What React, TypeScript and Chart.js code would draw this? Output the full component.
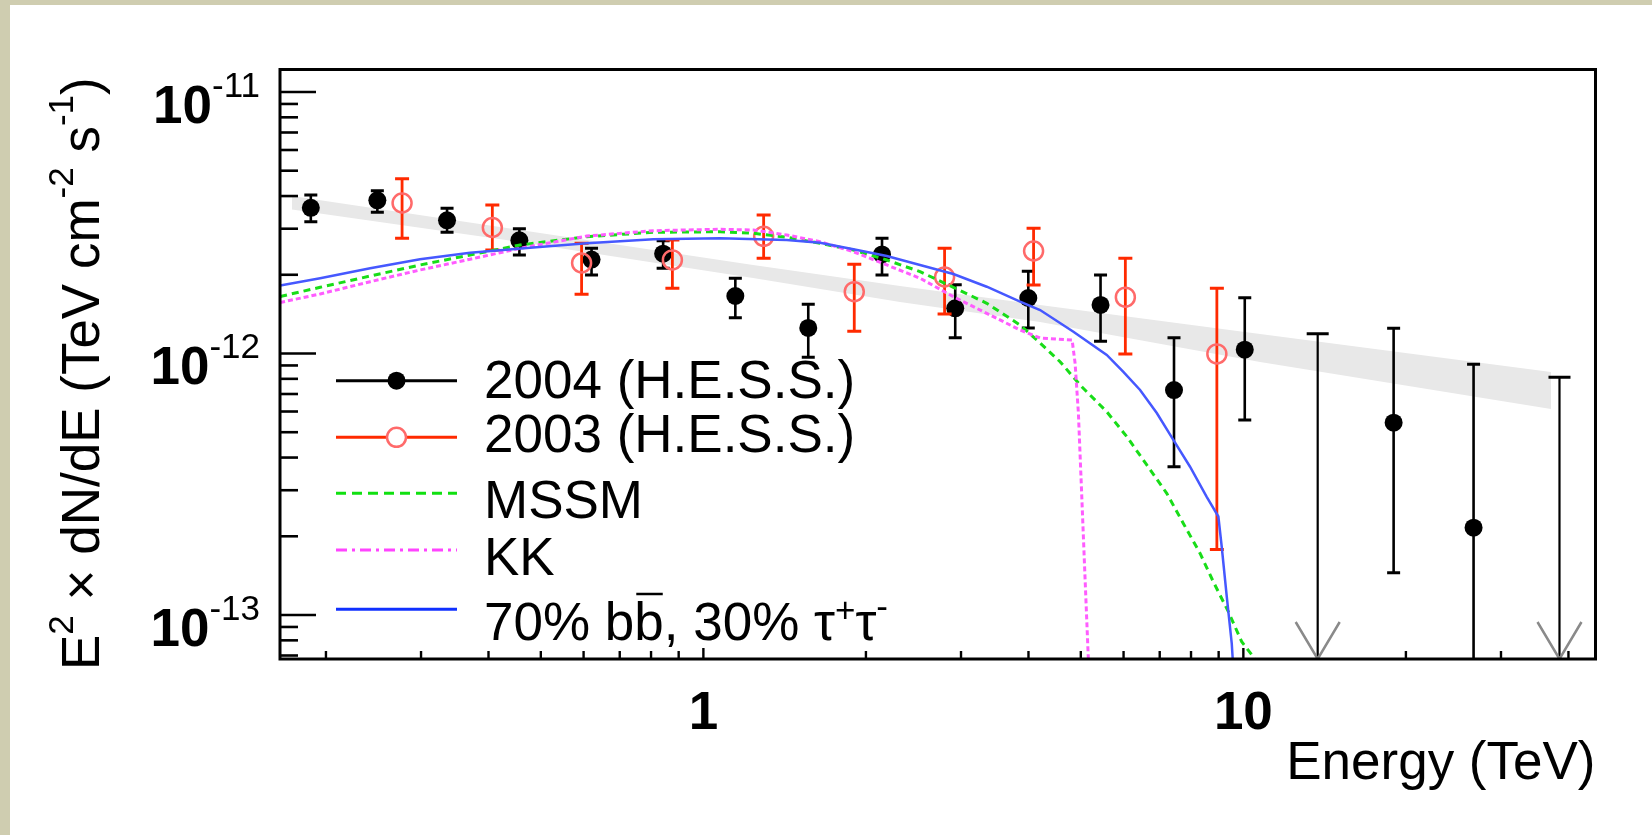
import React, { useEffect, useRef } from 'react';
import { Chart, registerables } from 'chart.js';

Chart.register(...registerables);

const FONT = '"Liberation Sans", Arial, Helvetica, sans-serif';

// ---------------- data ----------------
// H.E.S.S. 2004 (filled black points), E [TeV], E^2 dN/dE [TeV cm^-2 s^-1]
const energy2004 = [0.1875, 0.249, 0.3352, 0.4563, 0.6207, 0.8423, 1.146, 1.564, 2.142, 2.927, 3.997, 5.439, 7.44, 10.06, 18.98, 26.69];
const flux2004 = [3.607e-12, 3.853e-12, 3.231e-12, 2.71e-12, 2.286e-12, 2.407e-12, 1.659e-12, 1.252e-12, 2.391e-12, 1.489e-12, 1.63e-12, 1.533e-12, 7.25e-13, 1.034e-12, 5.44e-13, 2.157e-13];
const flux2004Hi = [4.037e-12, 4.193e-12, 3.591e-12, 3.0e-12, 2.525e-12, 2.698e-12, 1.939e-12, 1.542e-12, 2.757e-12, 1.833e-12, 2.062e-12, 1.996e-12, 1.149e-12, 1.635e-12, 1.248e-12, 9.09e-13];
const flux2004Lo = [3.192e-12, 3.467e-12, 2.906e-12, 2.38e-12, 1.996e-12, 2.117e-12, 1.371e-12, 9.68e-13, 1.996e-12, 1.148e-12, 1.252e-12, 1.114e-12, 3.69e-13, 5.57e-13, 1.452e-13, 4.0e-14];
// H.E.S.S. 2004 upper limits
const energy2004UL = [13.73, 38.5];
const flux2004UL = [1.19e-12, 8.11e-13];

// H.E.S.S. 2003 (open red circles)
const energy2003 = [0.2767, 0.4066, 0.5949, 0.8762, 1.293, 1.903, 2.797, 4.088, 6.046, 8.932];
const flux2003 = [3.762e-12, 3.032e-12, 2.219e-12, 2.279e-12, 2.806e-12, 1.723e-12, 1.961e-12, 2.466e-12, 1.642e-12, 9.96e-13];
const flux2003Hi = [4.661e-12, 3.697e-12, 2.638e-12, 2.716e-12, 3.385e-12, 2.194e-12, 2.525e-12, 3.01e-12, 2.312e-12, 1.775e-12];
const flux2003Lo = [2.757e-12, 2.487e-12, 1.684e-12, 1.775e-12, 2.312e-12, 1.216e-12, 1.416e-12, 1.828e-12, 9.96e-13, 1.781e-13];

// power-law fit band (grey)
const bandEnergy = [0.173, 0.4576, 1.236, 2.313, 4.203, 10.74, 37.13];
const bandUpper = [4.002e-12, 2.967e-12, 2.18e-12, 1.812e-12, 1.532e-12, 1.188e-12, 8.5e-13];
const bandLower = [3.553e-12, 2.669e-12, 1.944e-12, 1.573e-12, 1.32e-12, 9.28e-13, 6.135e-13];

// model curves
const mssmEnergy = [0.1645, 0.1951, 0.2415, 0.2987, 0.3698, 0.4576, 0.6083, 0.808, 1.074, 1.238, 1.427, 1.645, 1.896, 2.186, 2.519, 2.904, 3.348, 3.859, 4.203, 4.577, 5.021, 5.585, 6.083, 6.624, 7.213, 7.742, 8.316, 8.798, 9.38, 9.93, 10.43, 10.97];
const mssmFlux = [1.652e-12, 1.791e-12, 1.978e-12, 2.18e-12, 2.38e-12, 2.599e-12, 2.797e-12, 2.907e-12, 2.922e-12, 2.882e-12, 2.782e-12, 2.638e-12, 2.487e-12, 2.278e-12, 2.055e-12, 1.791e-12, 1.556e-12, 1.285e-12, 1.097e-12, 9.3e-13, 7.46e-13, 5.99e-13, 4.81e-13, 3.75e-13, 2.92e-13, 2.24e-13, 1.72e-13, 1.34e-13, 1.03e-13, 7.9e-14, 6.93e-14, 5.64e-14];

const kkEnergy = [0.1645, 0.1951, 0.2415, 0.2987, 0.3698, 0.4576, 0.6083, 0.808, 1.074, 1.238, 1.427, 1.645, 1.896, 2.186, 2.519, 2.904, 3.348, 3.859, 4.203, 4.818, 4.88, 4.949, 5.021, 5.093, 5.164, 5.18];
const kkFlux = [1.567e-12, 1.689e-12, 1.882e-12, 2.086e-12, 2.293e-12, 2.525e-12, 2.813e-12, 2.948e-12, 2.985e-12, 2.967e-12, 2.839e-12, 2.676e-12, 2.45e-12, 2.18e-12, 1.94e-12, 1.649e-12, 1.424e-12, 1.23e-12, 1.146e-12, 1.126e-12, 9.17e-13, 5.91e-13, 2.83e-13, 1.36e-13, 6.73e-14, 5.16e-14];

const bbEnergy = [0.1645, 0.1951, 0.2415, 0.2987, 0.3698, 0.4776, 0.6083, 0.808, 1.074, 1.427, 1.645, 1.896, 2.186, 2.519, 2.904, 3.348, 3.859, 4.203, 4.845, 5.585, 5.995, 6.438, 6.913, 7.419, 7.966, 8.553, 8.989, 9.12, 9.317, 9.517, 9.61];
const bbFlux = [1.82e-12, 1.94e-12, 2.117e-12, 2.293e-12, 2.429e-12, 2.538e-12, 2.638e-12, 2.733e-12, 2.757e-12, 2.716e-12, 2.652e-12, 2.503e-12, 2.36e-12, 2.18e-12, 2.014e-12, 1.8e-12, 1.578e-12, 1.466e-12, 1.211e-12, 9.87e-13, 8.5e-13, 7.25e-13, 5.92e-13, 4.67e-13, 3.69e-13, 2.83e-13, 2.38e-13, 1.82e-13, 1.175e-13, 7.79e-14, 5.64e-14];

// axes
const X_MIN = 0.16441;
const X_MAX = 44.89;
const Y_MIN = 6.788e-14;
const Y_MAX = 1.2189e-11;
const xTickValues = [1, 10];
const xTickLabels = ['1', '10'];
const yTickValues = [1e-11, 1e-12, 1e-13];
const yTickMantissa = '10';
const yTickExponents = ['-11', '-12', '-13'];
const xAxisTitle = 'Energy (TeV)';
const yAxisTitle = [
  { t: 'E' }, { t: '2', sup: true }, { t: ' \u00d7 dN/dE (TeV cm' }, { t: '-2', sup: true },
  { t: ' s' }, { t: '-1', sup: true }, { t: ')' },
];
const legendLabels = ['2004 (H.E.S.S.)', '2003 (H.E.S.S.)', 'MSSM', 'KK'];
const legendLastLabel = [
  { t: '70% b' }, { t: 'b', over: true }, { t: ', 30% \u03c4' }, { t: '+', sup: true, rise: 18 },
  { t: '\u03c4' }, { t: '-', sup: true, rise: 22 },
];

// ---------------- helpers ----------------
const pts = (xs: number[], ys: number[]) => xs.map((x, i) => ({ x, y: ys[i] }));

function drawRich(ctx: any, segs: any[], x: number, y: number, align: string, base = 53) {
  const fontOf = (s: any) => `${s.weight || 'normal'} ${s.sup ? 35 : base}px ${FONT}`;
  const widths = segs.map((s) => { ctx.font = fontOf(s); return ctx.measureText(s.t).width; });
  const total = widths.reduce((a, b) => a + b, 0);
  let cx = align === 'right' ? x - total : x;
  ctx.textAlign = 'left';
  ctx.textBaseline = 'alphabetic';
  segs.forEach((s, i) => {
    ctx.font = fontOf(s);
    const rise = s.sup ? (s.rise !== undefined ? s.rise : 26) : 0;
    ctx.fillText(s.t, cx, y - rise);
    if (s.over) {
      ctx.save();
      ctx.lineWidth = 2.5;
      ctx.strokeStyle = ctx.fillStyle;
      ctx.beginPath();
      ctx.moveTo(cx + 2, y - 46);
      ctx.lineTo(cx + widths[i] - 1, y - 46);
      ctx.stroke();
      ctx.restore();
    }
    cx += widths[i];
  });
}

function seg(ctx: any, x0: number, y0: number, x1: number, y1: number) {
  ctx.beginPath();
  ctx.moveTo(x0, y0);
  ctx.lineTo(x1, y1);
  ctx.stroke();
}

const errorBarPlugin = {
  id: 'errorBars',
  beforeDatasetDraw(chart: any, args: any) {
    const ds: any = chart.data.datasets[args.index];
    if (!ds.errHigh && !ds.upperLimit) return;
    const { ctx, chartArea: a, scales } = chart;
    const xs = scales.x;
    const ys = scales.y;
    ctx.save();
    ctx.beginPath();
    ctx.rect(a.left, a.top, a.right - a.left, a.bottom - a.top);
    ctx.clip();
    ctx.lineCap = 'butt';
    ds.data.forEach((p: any, i: number) => {
      const px = xs.getPixelForValue(p.x);
      ctx.strokeStyle = ds.errColor;
      if (ds.upperLimit) {
        const yTop = ys.getPixelForValue(p.y);
        ctx.lineWidth = 2.2;
        seg(ctx, px, yTop, px, a.bottom);
        ctx.lineWidth = 3;
        seg(ctx, px - 11, yTop, px + 11, yTop);
        ctx.strokeStyle = '#8a8a8a';
        ctx.lineWidth = 2.5;
        ctx.beginPath();
        ctx.moveTo(px - 22, a.bottom - 37);
        ctx.lineTo(px, a.bottom);
        ctx.lineTo(px + 22, a.bottom - 37);
        ctx.stroke();
      } else {
        const yHi = ys.getPixelForValue(ds.errHigh[i]);
        const yLo = ys.getPixelForValue(ds.errLow[i]);
        const cap = ds.capHalf;
        ctx.lineWidth = ds.errWidth;
        seg(ctx, px, yHi, px, yLo);
        ctx.lineWidth = 3;
        seg(ctx, px - cap, yHi, px + cap, yHi);
        seg(ctx, px - cap, yLo, px + cap, yLo);
      }
    });
    ctx.restore();
  },
};

const framePlugin = {
  id: 'rootFrame',
  afterDatasetsDraw(chart: any) {
    const { ctx, chartArea: a, scales } = chart;
    const xs = scales.x;
    const ys = scales.y;
    ctx.save();
    ctx.strokeStyle = '#000';
    ctx.fillStyle = '#000';
    ctx.lineCap = 'butt';
    // y ticks (inward)
    ctx.lineWidth = 2.6;
    for (let d = -14; d <= -10; d++) {
      for (let m = 1; m <= 9; m++) {
        const v = m * Math.pow(10, d);
        if (v < Y_MIN || v > Y_MAX) continue;
        const py = ys.getPixelForValue(v);
        seg(ctx, a.left, py, a.left + (m === 1 ? 36 : 18), py);
      }
    }
    // x ticks (inward)
    ctx.lineWidth = 2.4;
    for (let d = -1; d <= 1; d++) {
      for (let m = 1; m <= 9; m++) {
        const v = m * Math.pow(10, d);
        if (v < X_MIN || v > X_MAX) continue;
        const px = xs.getPixelForValue(v);
        seg(ctx, px, a.bottom, px, a.bottom - (m === 1 ? 11 : 8));
      }
    }
    // frame
    ctx.lineWidth = 3;
    ctx.strokeRect(a.left, a.top, a.right - a.left, a.bottom - a.top);

    // y tick labels 10^-n
    yTickValues.forEach((v, i) => {
      const py = ys.getPixelForValue(v);
      drawRich(ctx, [{ t: yTickMantissa, weight: 'bold' }, { t: yTickExponents[i], sup: true }], a.left - 20, py + 31, 'right');
    });

    // y axis title (rotated)
    ctx.save();
    ctx.translate(98.5, 670);
    ctx.rotate(-Math.PI / 2);
    drawRich(ctx, yAxisTitle, 0, 0, 'left');
    ctx.restore();

    // legend
    const lx0 = 336, lx1 = 457, lmx = 396.5, tx = 484;
    const rowLine = [380.7, 437.3, 493.3, 550, 609.3];
    const rowBase = [398.3, 451.7, 518.3, 575, 640];
    const styles = [
      { color: '#000', dash: [], w: 3 },
      { color: '#ff2a00', dash: [], w: 3 },
      { color: '#10e010', dash: [10, 6], w: 3 },
      { color: '#ff44ff', dash: [11, 5, 3, 5], w: 3 },
      { color: '#1030ff', dash: [], w: 3 },
    ];
    styles.forEach((s, i) => {
      ctx.save();
      ctx.strokeStyle = s.color;
      ctx.lineWidth = s.w;
      ctx.setLineDash(s.dash);
      seg(ctx, lx0, rowLine[i], lx1, rowLine[i]);
      ctx.restore();
    });
    // markers
    ctx.beginPath();
    ctx.arc(lmx, rowLine[0], 9, 0, Math.PI * 2);
    ctx.fillStyle = '#000';
    ctx.fill();
    ctx.beginPath();
    ctx.arc(lmx, rowLine[1], 9.5, 0, Math.PI * 2);
    ctx.fillStyle = '#fff';
    ctx.fill();
    ctx.lineWidth = 2.5;
    ctx.strokeStyle = '#ff6a6a';
    ctx.stroke();
    // texts
    ctx.fillStyle = '#000';
    ctx.font = `53px ${FONT}`;
    ctx.textAlign = 'left';
    ctx.textBaseline = 'alphabetic';
    legendLabels.forEach((t, i) => ctx.fillText(t, tx, rowBase[i]));
    drawRich(ctx, legendLastLabel, tx, rowBase[4], 'left');
    ctx.restore();
  },
};

export default function App() {
  const ref = useRef<HTMLCanvasElement>(null);
  useEffect(() => {
    const canvas = ref.current;
    if (!canvas) return;
    const config: any = {
      type: 'line',
      data: {
        datasets: [
          { label: 'band hi', data: pts(bandEnergy, bandUpper), fill: '+1', backgroundColor: '#e8e8e8', borderWidth: 0, pointRadius: 0, order: 10 },
          { label: 'band lo', data: pts(bandEnergy, bandLower), fill: false, borderWidth: 0, pointRadius: 0, order: 10 },
          {
            label: '2004 (H.E.S.S.)', data: pts(energy2004, flux2004), showLine: false, pointRadius: 9,
            pointBackgroundColor: '#000', pointBorderWidth: 0, order: 6,
            errHigh: flux2004Hi, errLow: flux2004Lo, errColor: '#000', errWidth: 2.6, capHalf: 6.5,
          },
          {
            label: '2004 UL', data: pts(energy2004UL, flux2004UL), showLine: false, pointRadius: 0, order: 6,
            upperLimit: true, errColor: '#000',
          },
          {
            label: '2003 (H.E.S.S.)', data: pts(energy2003, flux2003), showLine: false, pointRadius: 9.5,
            pointBackgroundColor: 'rgba(0,0,0,0)', pointBorderColor: '#ff6a6a', pointBorderWidth: 2.5, order: 5,
            errHigh: flux2003Hi, errLow: flux2003Lo, errColor: '#ff2a00', errWidth: 2.8, capHalf: 7,
          },
          { label: 'MSSM', data: pts(mssmEnergy, mssmFlux), borderColor: '#18dd18', borderWidth: 3, borderDash: [7, 5], pointRadius: 0, fill: false, tension: 0, order: 3 },
          { label: 'KK', data: pts(kkEnergy, kkFlux), borderColor: '#ff5cff', borderWidth: 3, borderDash: [5, 3], pointRadius: 0, fill: false, tension: 0, order: 2 },
          { label: '70% bb, 30% tautau', data: pts(bbEnergy, bbFlux), borderColor: '#4658ff', borderWidth: 2.5, pointRadius: 0, fill: false, tension: 0, order: 1 },
        ],
      },
      options: {
        responsive: false,
        maintainAspectRatio: false,
        animation: false,
        events: [],
        layout: { padding: { left: 0, right: 56.5, top: 69.5, bottom: 0 }, autoPadding: false },
        plugins: {
          legend: { display: false },
          tooltip: { enabled: false },
          filler: { drawTime: 'beforeDatasetsDraw' },
        },
        scales: {
          x: {
            type: 'logarithmic',
            position: 'bottom',
            min: X_MIN,
            max: X_MAX,
            grid: { display: false, drawTicks: false },
            border: { display: false },
            afterBuildTicks: (s: any) => { s.ticks = xTickValues.map((v) => ({ value: v })); },
            afterFit: (s: any) => { s.height = 176; },
            ticks: {
              autoSkip: false,
              maxRotation: 0,
              minRotation: 0,
              padding: 24,
              color: '#000',
              font: { family: FONT, size: 53, weight: 'bold' },
              callback: (v: any) => { const i = xTickValues.indexOf(Number(v)); return i >= 0 ? xTickLabels[i] : ''; },
            },
            title: {
              display: true,
              text: xAxisTitle,
              align: 'end',
              color: '#000',
              font: { family: FONT, size: 53, weight: 'normal' },
              padding: { top: 0, bottom: 38.6 },
            },
          },
          y: {
            type: 'logarithmic',
            position: 'left',
            min: Y_MIN,
            max: Y_MAX,
            grid: { display: false, drawTicks: false },
            border: { display: false },
            ticks: { display: false },
            afterFit: (s: any) => { s.width = 280; },
          },
        },
      },
      plugins: [errorBarPlugin, framePlugin],
    };
    const chart = new Chart(canvas, config);
    return () => chart.destroy();
  }, []);

  return (
    <div style={{ position: 'absolute', left: 0, top: 0, width: 1652, height: 835, background: '#ffffff', overflow: 'hidden' }}>
      <div style={{ position: 'absolute', left: 0, top: 0, width: 1652, height: 4.5, background: '#cfcdb0' }} />
      <div style={{ position: 'absolute', left: 0, top: 0, width: 10, height: 835, background: '#cfcdb0' }} />
      <canvas ref={ref} width={1652} height={835} style={{ position: 'absolute', left: 0, top: 0, width: 1652, height: 835 }} />
    </div>
  );
}
